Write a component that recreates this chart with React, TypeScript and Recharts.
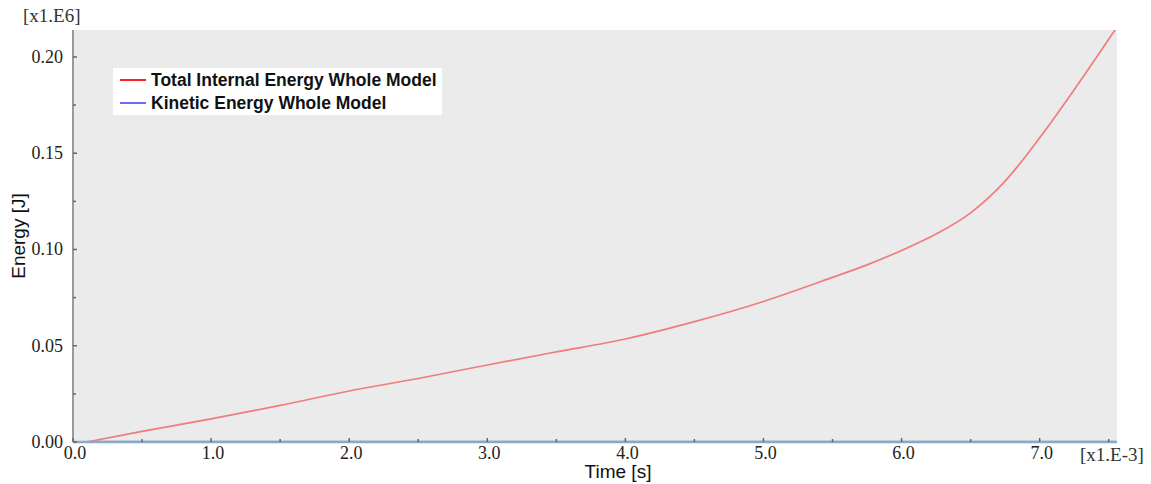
import React from 'react';
import { LineChart, Line, XAxis, YAxis, CartesianGrid, Legend } from 'recharts';

const timeMs = [0.1, 0.5, 1.0, 1.5, 2.0, 2.5, 3.0, 3.5, 4.0, 4.5, 5.0, 5.5, 5.75, 6.0, 6.25, 6.5, 6.75, 7.0, 7.25, 7.55];
const internalEnergy = [0, 0.0055, 0.012, 0.019, 0.0265, 0.033, 0.04, 0.0468, 0.0535, 0.0625, 0.073, 0.0855, 0.092, 0.0995, 0.108, 0.119, 0.1355, 0.158, 0.183, 0.2145];
const kineticEnergy = [0, 0, 0, 0, 0, 0, 0, 0, 0, 0, 0, 0, 0, 0, 0, 0, 0, 0, 0, 0];

const xTicks = [0, 0.5, 1, 1.5, 2, 2.5, 3, 3.5, 4, 4.5, 5, 5.5, 6, 6.5, 7, 7.5];
const yTicks = [0, 0.025, 0.05, 0.075, 0.1, 0.125, 0.15, 0.175, 0.2];

const seriesNames = ['Total Internal Energy Whole Model', 'Kinetic Energy Whole Model'];
const legendColors = ['#ff2222', '#6a6aff'];

const data = timeMs.map((t, i) => ({ t, internal: internalEnergy[i], kinetic: kineticEnergy[i] }));

const X_DOMAIN: [number, number] = [0, 7.56];
const Y_DOMAIN: [number, number] = [0, 0.214];
const SERIF = '"Liberation Serif", "DejaVu Serif", serif';
const SANS = '"Liberation Sans", Arial, sans-serif';

const isMajor = (v: number, step: number) => Math.abs(v / step - Math.round(v / step)) < 1e-6;

const BottomTick = (props: any) => {
  const { x, y, payload } = props;
  const major = isMajor(payload.value, 1);
  return (
    <g>
      <line x1={x} x2={x} y1={y} y2={y - (major ? 4 : 3)} stroke="#666" strokeWidth={1.5} />
      {major && (
        <text x={x + 2} y={y + 17} textAnchor="middle" fontFamily={SERIF} fontSize={18} fill="#222">
          {payload.value.toFixed(1)}
        </text>
      )}
    </g>
  );
};

const TopTick = (props: any) => {
  const { x, y } = props;
  return <line x1={x} x2={x} y1={y} y2={y + 3} stroke="#666" strokeWidth={1.5} />;
};

const LeftTick = (props: any) => {
  const { x, y, payload } = props;
  const major = isMajor(payload.value, 0.05);
  return (
    <g>
      <line x1={x} x2={x + (major ? 4 : 3)} y1={y} y2={y} stroke="#666" strokeWidth={1.5} />
      {major && (
        <text x={x - 10} y={y + 6} textAnchor="end" fontFamily={SERIF} fontSize={18} fill="#222">
          {payload.value.toFixed(2)}
        </text>
      )}
    </g>
  );
};

const RightTick = (props: any) => {
  const { x, y } = props;
  return <line x1={x} x2={x - 3} y1={y} y2={y} stroke="#666" strokeWidth={1.5} />;
};

const LegendBox = () => (
  <div style={{ background: '#ffffff', padding: '1px 5px 0px 7px', display: 'inline-block' }}>
    {seriesNames.map((name, i) => (
      <div key={name} style={{ display: 'flex', alignItems: 'center', height: 23 }}>
        <div style={{ width: 26, height: 2, background: legendColors[i], marginRight: 5, marginTop: -2 }} />
        <span style={{ fontFamily: SANS, fontWeight: 'bold', fontSize: 17.5, color: '#111', whiteSpace: 'nowrap', lineHeight: '23px' }}>
          {name}
        </span>
      </div>
    ))}
  </div>
);

export default function App() {
  return (
    <div style={{ position: 'absolute', left: 0, top: 0, width: 1151, height: 484, background: '#fff' }}>
      <LineChart width={1151} height={484} data={data} margin={{ top: 30, right: 34, left: 0, bottom: 0 }}>
        <CartesianGrid horizontal={false} vertical={false} fill="#ebebeb" />
        <XAxis
          xAxisId="bottom"
          dataKey="t"
          type="number"
          domain={X_DOMAIN}
          ticks={xTicks}
          interval={0}
          allowDataOverflow
          height={42}
          tickSize={0}
          tickMargin={0}
          tick={<BottomTick />}
          stroke="#8aa8c8"
          strokeWidth={2.5}
        />
        <XAxis
          xAxisId="top"
          orientation="top"
          dataKey="t"
          type="number"
          domain={X_DOMAIN}
          ticks={xTicks}
          interval={0}
          allowDataOverflow
          height={0}
          tickSize={0}
          tickMargin={0}
          tick={<TopTick />}
          stroke="#9a9a9a"
          strokeWidth={2}
        />
        <YAxis
          yAxisId="left"
          type="number"
          domain={Y_DOMAIN}
          ticks={yTicks}
          interval={0}
          allowDataOverflow
          width={73}
          tickSize={0}
          tickMargin={0}
          tick={<LeftTick />}
          stroke="#9a9a9a"
          strokeWidth={2}
        />
        <YAxis
          yAxisId="right"
          orientation="right"
          type="number"
          domain={Y_DOMAIN}
          ticks={yTicks}
          interval={0}
          allowDataOverflow
          width={0}
          tickSize={0}
          tickMargin={0}
          tick={<RightTick />}
          stroke="#9a9a9a"
          strokeWidth={2}
        />
        <Legend
          layout="horizontal"
          verticalAlign="middle"
          align="center"
          content={() => <LegendBox />}
          wrapperStyle={{ position: 'absolute', left: 113, top: 68, width: 'auto', height: 'auto' }}
        />
        <Line
          xAxisId="bottom"
          yAxisId="left"
          type="monotone"
          dataKey="kinetic"
          name={seriesNames[1]}
          stroke="#86a8cf"
          strokeWidth={2.5}
          dot={false}
          isAnimationActive={false}
        />
        <Line
          xAxisId="bottom"
          yAxisId="left"
          type="monotone"
          dataKey="internal"
          name={seriesNames[0]}
          stroke="#f07c7c"
          strokeWidth={1.7}
          dot={false}
          isAnimationActive={false}
        />
        <text x={23} y={22} fontFamily={SERIF} fontSize={19} fill="#333">[x1.E6]</text>
        <text x={1080} y={461} fontFamily={SERIF} fontSize={19} fill="#333">[x1.E-3]</text>
        <text x={618} y={478} textAnchor="middle" fontFamily={SANS} fontSize={19} fill="#111">Time [s]</text>
        <text
          x={25}
          y={236}
          textAnchor="middle"
          fontFamily={SANS}
          fontSize={19}
          fill="#111"
          transform="rotate(-90 25 236)"
        >
          Energy [J]
        </text>
      </LineChart>
    </div>
  );
}
